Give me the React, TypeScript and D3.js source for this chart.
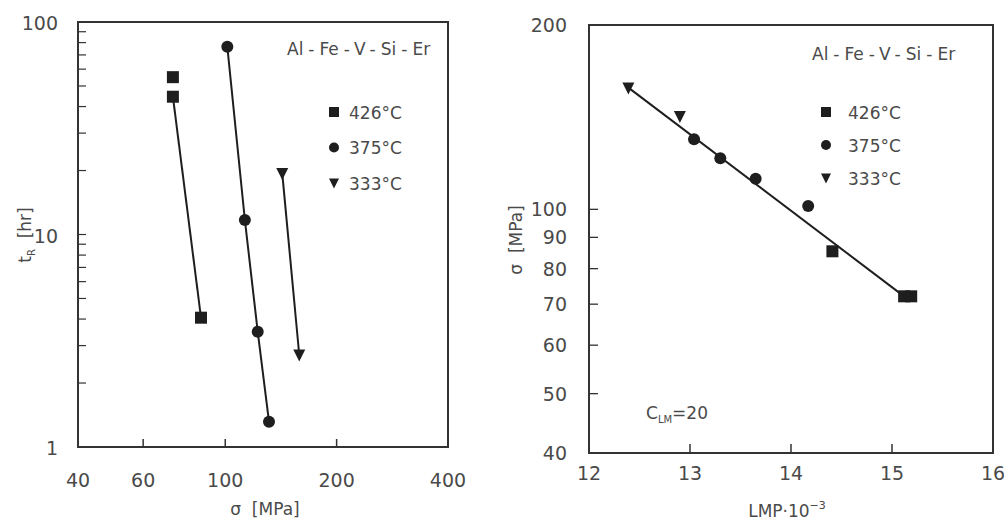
import React from 'react';
import * as d3 from 'd3';

// ---- Left panel data: rupture time vs stress ----
const leftStress426 = [72.2, 72.2, 86];
const leftTime426 = [55, 44.5, 4.06];
const leftStress375 = [101.3, 113, 122.4, 131.3];
const leftTime375 = [76.5, 11.7, 3.49, 1.315];
const leftStress333 = [142.6, 158.5];
const leftTime333 = [19.4, 2.71];

// ---- Right panel data: stress vs LMP ----
const lmp426 = [14.41, 15.12, 15.19];
const sigma426 = [85.4, 72.1, 72.1];
const lmp375 = [13.04, 13.3, 13.65, 14.17];
const sigma375 = [130.2, 121.2, 112.2, 101.3];
const lmp333 = [12.39, 12.9];
const sigma333 = [157.8, 141.8];
const fitLmp = [12.38, 15.1];
const fitSigma = [158.5, 72.5];

// ---- Tick labels ----
const leftXLabels = [40, 60, 100, 200, 400];
const leftXTicks = [60, 100, 200];
const leftYLabels = [1, 10, 100];
const rightXLabels = [12, 13, 14, 15, 16];
const rightXTicks = [13, 14, 15];
const rightYLabels = [40, 50, 60, 70, 80, 90, 100, 200];
const rightYTicks = [50, 60, 70, 80, 90, 100];

const alloyParts = ['Al', 'Fe', 'V', 'Si', 'Er'];
const legendLabels = ['426°C', '375°C', '333°C'];
const legendShapes = ['square', 'circle', 'triangle'];

const FONT = 'DejaVu Sans, Verdana, sans-serif';
const TXT = '#4a4a4a';
const INK = '#1e1e1e';
const FRAME = '#333';
const NB = '\u00a0';

function Marker({ shape, x, y, size }: { shape: string; x: number; y: number; size: number }) {
  const h = size / 2;
  if (shape === 'square') return <rect x={x - h} y={y - h} width={size} height={size} fill={INK} />;
  if (shape === 'circle') return <circle cx={x} cy={y} r={h} fill={INK} />;
  return <path d={`M${x - h},${y - h * 0.9} L${x + h},${y - h * 0.9} L${x},${y + h * 1.1} Z`} fill={INK} />;
}

function Alloy({ x, y }: { x: number; y: number }) {
  return (
    <text x={x} y={y} fontSize={17} fill={TXT}>
      {alloyParts.map((p, i) => (
        <React.Fragment key={i}>
          {i > 0 && <tspan dx={5}>-</tspan>}
          <tspan dx={i > 0 ? 5 : 0}>{p}</tspan>
        </React.Fragment>
      ))}
    </text>
  );
}

export default function App() {
  const xL = d3.scaleLog().domain([40, 400]).range([78, 448]);
  const yL = d3.scaleLog().domain([1, 100]).range([447, 22]);
  const xR = d3.scaleLinear().domain([12, 16]).range([589, 993]);
  const yR = d3.scaleLog().domain([40, 200]).range([453, 25]);

  const lineL = d3.line<[number, number]>().x(d => xL(d[0])).y(d => yL(d[1]));
  const lineR = d3.line<[number, number]>().x(d => xR(d[0])).y(d => yR(d[1]));

  const zip = (a: number[], b: number[]) => a.map((v, i) => [v, b[i]] as [number, number]);

  const leftSeries = [
    { shape: 'square', pts: zip(leftStress426, leftTime426), linePts: zip(leftStress426, leftTime426).slice(1) },
    { shape: 'circle', pts: zip(leftStress375, leftTime375), linePts: zip(leftStress375, leftTime375) },
    { shape: 'triangle', pts: zip(leftStress333, leftTime333), linePts: zip(leftStress333, leftTime333) },
  ];
  const rightSeries = [
    { shape: 'square', pts: zip(lmp426, sigma426) },
    { shape: 'circle', pts: zip(lmp375, sigma375) },
    { shape: 'triangle', pts: zip(lmp333, sigma333) },
  ];

  const leftMinor = yL.ticks().filter(v => ![1, 100].includes(v));

  return (
    <svg width={1004} height={525} style={{ position: 'absolute', left: 0, top: 0, background: '#fff' }}
      fontFamily={FONT}>
      <rect width={1004} height={525} fill="#fff" />

      {/* ===== LEFT PANEL ===== */}
      <g>
        {leftMinor.map(v => (
          <line key={'ly' + v} x1={78} x2={86} y1={yL(v)} y2={yL(v)} stroke={FRAME} strokeWidth={1.2} />
        ))}
        {leftXTicks.map(v => (
          <line key={'lx' + v} x1={xL(v)} x2={xL(v)} y1={447} y2={439} stroke={FRAME} strokeWidth={1.5} />
        ))}
        <rect x={78} y={22} width={370} height={425} fill="none" stroke={FRAME} strokeWidth={2} />

        {leftSeries.map((s, i) => (
          <path key={'ll' + i} d={lineL(s.linePts) || ''} fill="none" stroke={INK} strokeWidth={2} />
        ))}
        {leftSeries.map((s, i) =>
          s.pts.map((p, j) => <Marker key={'lm' + i + '-' + j} shape={s.shape} x={xL(p[0])} y={yL(p[1])} size={12} />)
        )}

        {leftXLabels.map(v => (
          <text key={'lxl' + v} x={xL(v)} y={487} textAnchor="middle" fontSize={19} fill={TXT}>{v}</text>
        ))}
        {leftYLabels.map(v => (
          <text key={'lyl' + v} x={58} y={yL(v) + 8} textAnchor="end" fontSize={19} fill={TXT}>{v}</text>
        ))}

        <text x={265} y={515} textAnchor="middle" fontSize={17} fill={TXT}>{'σ' + NB + NB + '[MPa]'}</text>
        <text transform="translate(31,235) rotate(-90)" textAnchor="middle" fontSize={17} fill={TXT}>
          t<tspan fontSize={10} dy={4}>R</tspan><tspan dy={-4}>{NB + NB + '[hr]'}</tspan>
        </text>

        <Alloy x={287} y={55} />

        {legendLabels.map((lab, i) => (
          <g key={'lleg' + i}>
            <Marker shape={legendShapes[i]} x={334} y={112 + i * 35.5} size={10} />
            <text x={349} y={112 + i * 35.5 + 6.5} fontSize={17} fill={TXT}>{lab}</text>
          </g>
        ))}
      </g>

      {/* ===== RIGHT PANEL ===== */}
      <g>
        {rightYTicks.map(v => (
          <line key={'ry' + v} x1={589} x2={598} y1={yR(v)} y2={yR(v)} stroke={FRAME} strokeWidth={1.3} />
        ))}
        {rightXTicks.map(v => (
          <line key={'rx' + v} x1={xR(v)} x2={xR(v)} y1={453} y2={444} stroke={FRAME} strokeWidth={1.5} />
        ))}
        <rect x={589} y={25} width={404} height={428} fill="none" stroke={FRAME} strokeWidth={2} />

        <path d={lineR(zip(fitLmp, fitSigma)) || ''} fill="none" stroke={INK} strokeWidth={2} />
        {rightSeries.map((s, i) =>
          s.pts.map((p, j) => <Marker key={'rm' + i + '-' + j} shape={s.shape} x={xR(p[0])} y={yR(p[1])} size={12} />)
        )}

        {rightXLabels.map(v => (
          <text key={'rxl' + v} x={xR(v)} y={480} textAnchor="middle" fontSize={19} fill={TXT}>{v}</text>
        ))}
        {rightYLabels.map(v => (
          <text key={'ryl' + v} x={567} y={yR(v) + 7} textAnchor="end" fontSize={19} fill={TXT}>{v}</text>
        ))}

        <text x={787} y={517} textAnchor="middle" fontSize={17} fill={TXT}>
          LMP·10<tspan fontSize={11} dy={-8}>−3</tspan>
        </text>
        <text transform="translate(522,240) rotate(-90)" textAnchor="middle" fontSize={17} fill={TXT}>{'σ' + NB + NB + '[MPa]'}</text>

        <text x={646} y={419} fontSize={17} fill={TXT}>
          C<tspan fontSize={10} dy={4}>LM</tspan><tspan dy={-4}>=20</tspan>
        </text>

        <Alloy x={812} y={60} />

        {legendLabels.map((lab, i) => (
          <g key={'rleg' + i}>
            <Marker shape={legendShapes[i]} x={826} y={112 + i * 33} size={10} />
            <text x={848} y={112 + i * 33 + 6.5} fontSize={17} fill={TXT}>{lab}</text>
          </g>
        ))}
      </g>
    </svg>
  );
}
